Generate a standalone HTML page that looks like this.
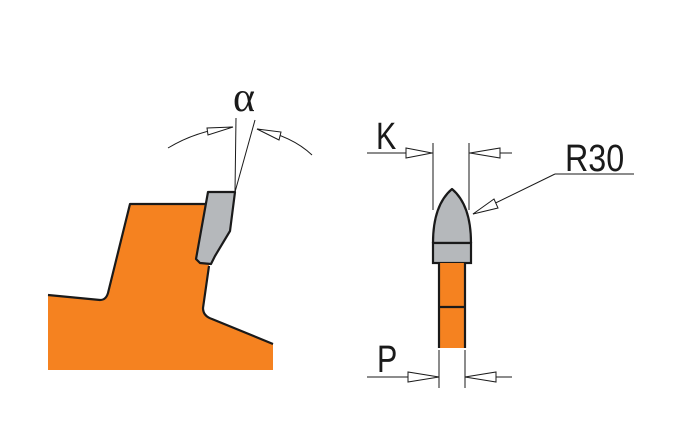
<!DOCTYPE html>
<html><head><meta charset="utf-8"><style>
html,body{margin:0;padding:0;background:#fff;}
svg{display:block;}
</style></head><body>
<svg width="699" height="443" viewBox="0 0 699 443" xmlns="http://www.w3.org/2000/svg">
<path d="M48,295 L100,300 Q106,300 108,293 L130,204 L205,204 L209,266 L203,308 Q203,316 212,319 L273,344 L273,370 L48,370 Z" fill="#f58220"/>
<path d="M48,295 L100,300 Q106,300 108,293 L130,204 L205,204 M209,266 L203,308 Q203,316 212,319 L273,344" fill="none" stroke="#1a1a1a" stroke-width="2.2" stroke-linejoin="round"/>
<path d="M208,192 L235,192 L230,231 L215,256 L211,264 L200,263 L196,259 Z" fill="#b5b8bb" stroke="#1a1a1a" stroke-width="2.2" stroke-linejoin="round"/>
<g stroke="#1a1a1a" stroke-width="1" fill="none">
<line x1="235" y1="192" x2="236" y2="118"/>
<line x1="235" y1="192" x2="255" y2="120"/>
<path d="M168,148 Q198,130 233,127"/>
<path d="M257,129 Q292,136 312,155"/>
<polygon points="233,127 207,128 208,135" fill="#fff"/>
<polygon points="257,129 281,132 279,140" fill="#fff"/>
</g>
<text x="233" y="111" font-family="Liberation Serif, serif" font-size="42" fill="#1a1a1a">α</text>
<path d="M433,243 Q433,205 452,189 Q471,205 471,243 Z" fill="#b5b8bb" stroke="#1a1a1a" stroke-width="2.2" stroke-linejoin="round"/>
<rect x="433" y="243" width="38" height="20" fill="#b5b8bb" stroke="#1a1a1a" stroke-width="2.2"/>
<rect x="439" y="263" width="26" height="85" fill="#f58220"/>
<path d="M439,263 L439,348 M465,263 L465,348 M439,307 L465,307" stroke="#1a1a1a" stroke-width="2.2"/>
<g stroke="#1a1a1a" stroke-width="1" fill="none">
<line x1="367" y1="153" x2="433" y2="153"/>
<line x1="469" y1="153" x2="512" y2="153"/>
<line x1="433" y1="143" x2="433" y2="210"/>
<line x1="469" y1="143" x2="469" y2="210"/>
<polygon points="432,153 406,148 406,158" fill="#fff"/>
<polygon points="470,153 500,148 500,158" fill="#fff"/>
<line x1="555" y1="174" x2="634" y2="174"/>
<line x1="555" y1="174" x2="473" y2="214"/>
<polygon points="473,214 494,199 498,208" fill="#fff"/>
<line x1="367" y1="377" x2="439" y2="377"/>
<line x1="465" y1="377" x2="512" y2="377"/>
<line x1="439" y1="350" x2="439" y2="388"/>
<line x1="465" y1="350" x2="465" y2="388"/>
<polygon points="439,377 408,372 408,382" fill="#fff"/>
<polygon points="465,377 496,372 496,382" fill="#fff"/>
</g>
<text x="376" y="149" font-family="Liberation Sans, sans-serif" font-size="38" fill="#1a1a1a" transform="scale(0.8,1)" style="transform-origin:376px 149px">K</text>
<text x="565" y="171" font-family="Liberation Sans, sans-serif" font-size="38" fill="#1a1a1a" transform="scale(0.85,1)" style="transform-origin:565px 171px">R30</text>
<text x="377" y="372" font-family="Liberation Sans, sans-serif" font-size="38" fill="#1a1a1a" transform="scale(0.8,1)" style="transform-origin:377px 372px">P</text>
</svg>
</body></html>
